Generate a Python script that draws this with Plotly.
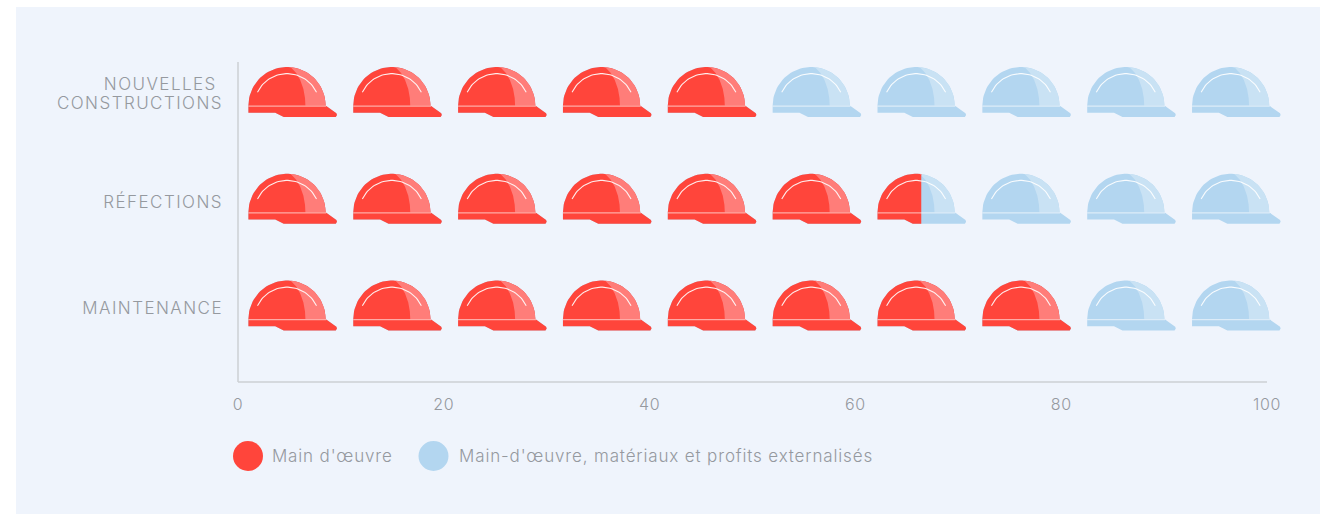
import numpy as np
import plotly.graph_objects as go

categories = ["NOUVELLES\u00a0<br>CONSTRUCTIONS", "RÉFECTIONS", "MAINTENANCE"]
labour_share = [50, 66.4, 80]
outsourced_share = [50, 33.6, 20]
series_names = ["Main d'œuvre", "Main-d'œuvre, matériaux et profits externalisés"]
x_ticks = [0, 20, 40, 60, 80, 100]

RED, RED_LIGHT = "#ff453b", "#ff7d79"
BLUE, BLUE_LIGHT = "#b3d6f0", "#c9e2f4"
PANEL = "#eff4fc"
AXIS = "#cdd0d5"
TEXT = "#95999f"
FONT = "Inter"

# Plot frame in pixels; the frame runs past the 100 mark so the last helmet's brim fits
W, H = 1332, 514
L, R, T, B = 238, 1267, 62, 382
R_FRAME = 1290
PX_X = (R - L) / 100
PX_Y = 106.75
Y_RANGE = [(B - 93) / PX_Y, (T - 93) / PX_Y]

# Helmet glyph, in pixels relative to its left edge and its row centre
PITCH = 104.85
FIRST_OFFSET = 10.2


def arc(cx, cy, r, a0, a1, n=48):
    t = np.radians(np.linspace(a0, a1, n))
    return list(zip(cx + r * np.cos(t), cy - r * np.sin(t)))


DOME_CX, DOME_CY, DOME_R = 38.8, 12.6, 38.6
SHELL = arc(DOME_CX, DOME_CY, DOME_R, 180, 0)
BRIM = [(0.2, 12.6), (77.4, 12.6), (88.2, 20.2), (88.8, 22), (87.6, 24),
        (35.5, 24), (27, 19.8), (0.2, 19.8)]

CREASE = [(57.2, 12.6), (56.8, 5), (55.2, -4), (52, -13), (48, -20)]
CREASE_END = 84.5
LIGHT_SIDE = CREASE + arc(DOME_CX, DOME_CY, DOME_R, CREASE_END, 0, 40)
HIGHLIGHT = arc(DOME_CX, DOME_CY + 0.7, 32.7, 154.5, 25.5, 40)
STRIPE = [(0.2, 13.2), (DOME_CX + DOME_R + 0.6, 13.2)]


def clip_right(poly, limit):
    """Clip a polygon to the half plane x <= limit."""
    out = []
    for i, (x1, y1) in enumerate(poly):
        x2, y2 = poly[(i + 1) % len(poly)]
        if x1 <= limit:
            out.append((x1, y1))
        if (x1 <= limit) != (x2 <= limit):
            out.append((limit, y1 + (y2 - y1) * (limit - x1) / (x2 - x1)))
    return out


def to_data(points, slot, row):
    left = FIRST_OFFSET + slot * PITCH
    xs = [(left + x) / PX_X for x, _ in points] + [None]
    ys = [row + y / PX_Y for _, y in points] + [None]
    return xs, ys


def add_layer(fig, polys, color, name):
    xs, ys = [], []
    for slot, row, pts in polys:
        if len(pts) < 3:
            continue
        px, py = to_data(pts, slot, row)
        xs += px
        ys += py
    fig.add_trace(go.Scatter(x=xs, y=ys, mode="lines", fill="toself", fillcolor=color,
                             line=dict(width=0, color=color), name=name,
                             hoverinfo="skip", showlegend=False))


def add_lines(fig, segments, color, width):
    xs, ys = [], []
    for slot, row, pts in segments:
        px, py = to_data(pts, slot, row)
        xs += px
        ys += py
    fig.add_trace(go.Scatter(x=xs, y=ys, mode="lines", line=dict(color=color, width=width),
                             hoverinfo="skip", showlegend=False))


base, light, over_base, over_light, arcs, stripes = [], [], [], [], [], []
for row, share in enumerate(labour_share):
    whole = int(share // 10)
    for slot in range(10):
        for part, bucket in ((SHELL, base), (BRIM, base), (LIGHT_SIDE, light)):
            bucket.append((slot, row, part))
        arcs.append((slot, row, HIGHLIGHT))
        stripes.append((slot, row, STRIPE))
        if slot < whole:
            limit = None
        elif slot == whole and share % 10:
            limit = share * PX_X - (FIRST_OFFSET + slot * PITCH)
        else:
            continue
        for part, bucket in ((SHELL, over_base), (BRIM, over_base), (LIGHT_SIDE, over_light)):
            bucket.append((slot, row, part if limit is None else clip_right(part, limit)))

fig = go.Figure()
add_layer(fig, base, BLUE, series_names[1])
add_layer(fig, light, BLUE_LIGHT, series_names[1])
add_layer(fig, over_base, RED, series_names[0])
add_layer(fig, over_light, RED_LIGHT, series_names[0])
add_lines(fig, stripes, "rgba(255,255,255,0.55)", 1.3)
add_lines(fig, arcs, "rgba(255,255,255,0.9)", 1.1)


def fx(px):
    return (px - L) / (R_FRAME - L)


def fy(py):
    return (B - py) / (B - T)


shapes = [
    dict(type="rect", xref="paper", yref="paper", x0=fx(16), x1=fx(1320), y0=fy(7), y1=fy(514),
         fillcolor=PANEL, line_width=0, layer="below"),
    dict(type="line", xref="paper", yref="paper", x0=0, x1=fx(R), y0=0, y1=0,
         line=dict(color=AXIS, width=1.5), layer="below"),
    dict(type="line", xref="paper", yref="paper", x0=0, x1=0, y0=0, y1=1,
         line=dict(color=AXIS, width=1.5), layer="below"),
]
annotations = []
# Tracking grows the centred legend text both ways, so each label is nudged back by half the growth
for cx, color, name, tx, nudge in ((248, RED, series_names[0], 272, 2.5),
                                   (433.5, BLUE, series_names[1], 459, 17.5)):
    shapes.append(dict(type="circle", xref="paper", yref="paper", x0=fx(cx - 15), x1=fx(cx + 15),
                       y0=fy(456 + 15), y1=fy(456 - 15), fillcolor=color, line_width=0))
    annotations.append(dict(xref="paper", yref="paper", x=fx(tx), y=fy(456), text=name, showarrow=False,
                            xanchor="left", yanchor="middle", xshift=nudge,
                            font=dict(family=FONT, size=17, color=TEXT, weight=300)))

fig.update_layout(
    width=W, height=H, autosize=False,
    margin=dict(l=L, r=W - R_FRAME, t=T, b=H - B),
    paper_bgcolor="white", plot_bgcolor="rgba(0,0,0,0)",
    shapes=shapes, annotations=annotations, showlegend=False,
    xaxis=dict(range=[0, (R_FRAME - L) / PX_X], tickvals=x_ticks, showgrid=False, zeroline=False,
               showline=False, ticks="", ticklabelstandoff=11,
               tickfont=dict(family=FONT, size=16, color=TEXT, weight=300)),
    yaxis=dict(range=Y_RANGE, tickvals=list(range(3)), ticktext=categories, showgrid=False,
               zeroline=False, showline=False, ticks="", ticklabelstandoff=14, ticklabelshift=-2,
               tickfont=dict(family=FONT, size=17, color=TEXT, weight=300)),
)

# Wider tracking for all text and a tighter line gap in the two-line category label
TEXT_TWEAKS = """
var gd = document.getElementById('{plot_id}');
gd.querySelectorAll('.xtick text').forEach(function (t) { t.style.letterSpacing = '0.6px'; });
gd.querySelectorAll('.ytick text').forEach(function (t) {
  t.style.letterSpacing = '1.45px';
  t.querySelectorAll('tspan.line').forEach(function (s) {
    if (s.getAttribute('dy') && parseFloat(s.getAttribute('dy')) > 0) { s.setAttribute('dy', '1.12em'); }
  });
});
gd.querySelectorAll('.annotation-text').forEach(function (t) { t.style.letterSpacing = '0.85px'; });
"""

fig.write_html("out.html", config=dict(displayModeBar=False), post_script=TEXT_TWEAKS)
